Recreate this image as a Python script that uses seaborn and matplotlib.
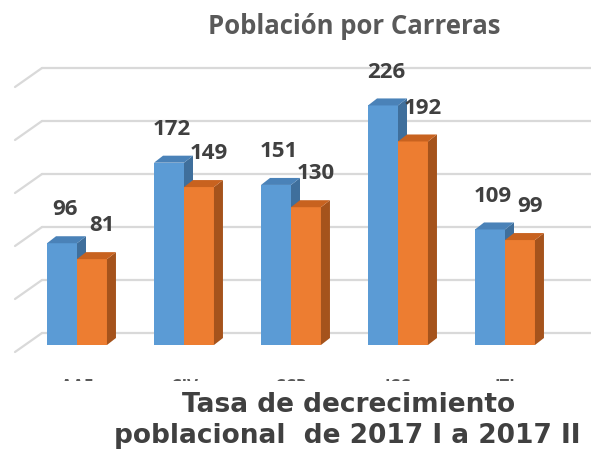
import matplotlib
matplotlib.use('Agg')
import matplotlib.pyplot as plt
import seaborn as sns
import pandas as pd
from matplotlib.patches import Polygon, Rectangle

carreras = ['AAE', 'CIV', 'CCP', 'ICC', 'ITI']
periodos = ['2017 I', '2017 II']
poblacion_2017_I = [96, 172, 151, 226, 109]
poblacion_2017_II = [81, 149, 130, 192, 99]
grid_values = [0, 50, 100, 150, 200, 250]

df = pd.DataFrame({
    'carrera': carreras * 2,
    'periodo': [periodos[0]] * 5 + [periodos[1]] * 5,
    'poblacion': poblacion_2017_I + poblacion_2017_II,
})

front = {'2017 I': '#5B9BD5', '2017 II': '#ED7D31'}
side = {'2017 I': '#3F6F9C', '2017 II': '#A5531C'}
top = {'2017 I': '#4A82B8', '2017 II': '#C8621F'}
label_dx = {'2017 I': 2, '2017 II': 7}

sns.set_style('white')
plt.rcParams['font.family'] = ['Open Sans', 'DejaVu Sans']

fig = plt.figure(figsize=(5.91, 4.5), dpi=100, facecolor='white')
ax = fig.add_axes([0, 0.2, 1, 0.8])

sns.barplot(data=df, x='carrera', y='poblacion', hue='periodo', order=carreras,
            hue_order=periodos, palette=front, width=0.56, gap=0, legend=False,
            saturation=1, ax=ax, zorder=2)

# pixel scale: 107 px per category, 1.06 px per unit
px_x = 107.0
px_y = 1.06
ax.set_xlim(-77 / px_x, (591 - 77) / px_x)
ax.set_ylim((345 - 360) / px_y, 345 / px_y)

# back wall gridlines with perspective floor lines
back_dy = 12 / px_y
front_dy = -7 / px_y
for g in grid_values:
    ax.plot([-35 / px_x, 10], [g + back_dy, g + back_dy], color='#D9D9D9', lw=1.6, zorder=1)
    ax.plot([-35 / px_x, -62 / px_x], [g + back_dy, g + front_dy], color='#D9D9D9', lw=1.6, zorder=1)

dx = 9 / px_x
dy = 7 / px_y
bars = ax.patches[:]
for i, bar in enumerate(bars):
    serie = periodos[i // len(carreras)]
    z = 2 + 2 * (i // len(carreras))
    bar.set_zorder(z)
    bar.set_edgecolor('none')
    x0 = bar.get_x()
    w = bar.get_width()
    h = bar.get_height()
    ax.add_patch(Polygon([(x0 + w, 0), (x0 + w + dx, dy), (x0 + w + dx, h + dy), (x0 + w, h)],
                         closed=True, facecolor=side[serie], edgecolor='none', zorder=z + 0.5))
    ax.add_patch(Polygon([(x0, h), (x0 + dx, h + dy), (x0 + w + dx, h + dy), (x0 + w, h)],
                         closed=True, facecolor=top[serie], edgecolor='none', zorder=z + 0.5))
    ax.annotate(f'{h:.0f}', (x0 + w / 2, h), xytext=(label_dx[serie], 24), textcoords='offset points',
                ha='center', va='center', fontsize=16, fontweight='bold', color='#404040', zorder=10)

sns.despine(ax=ax, left=True, bottom=True)
ax.set_yticks([])
ax.set_xlabel('')
ax.set_ylabel('')
ax.tick_params(axis='x', length=0, pad=13, labelsize=12, labelcolor='#595959')
for lbl in ax.get_xticklabels():
    lbl.set_fontweight('bold')

# the chart area is cut off just below the category labels' tops
fig.patches.append(Rectangle((0, 0), 1, (450 - 381) / 450, transform=fig.transFigure,
                             facecolor='white', edgecolor='none', zorder=1))

fig.text(0.6, 1 - 34 / 450, 'Población por Carreras', ha='center', va='baseline',
         fontsize=18.5, fontweight='bold', color='#595959')
fig.text(0.589, 1 - 412 / 450, 'Tasa de decrecimiento', ha='center', va='baseline',
         fontsize=19, fontweight='bold', color='#404040', family=['DejaVu Sans'])
fig.text(0.588, 1 - 443 / 450, 'poblacional  de 2017 I a 2017 II', ha='center', va='baseline',
         fontsize=19, fontweight='bold', color='#404040', family=['DejaVu Sans'])

plt.savefig('out.png', dpi=100, facecolor='white')
plt.close()
